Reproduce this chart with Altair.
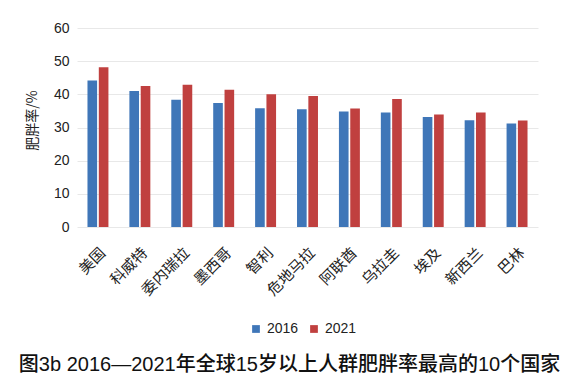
import altair as alt
import pandas as pd

countries = ["美国", "科威特", "委内瑞拉", "墨西哥", "智利", "危地马拉", "阿联酋", "乌拉圭", "埃及", "新西兰", "巴林"]
v2016 = [44.2, 41.0, 38.4, 37.4, 35.8, 35.5, 34.8, 34.5, 33.2, 32.2, 31.2]
v2021 = [48.2, 42.5, 42.9, 41.4, 40.0, 39.5, 35.7, 38.6, 33.9, 34.5, 32.1]
years = ["2016", "2021"]
colors = ["#3f76b8", "#c0403f"]

rows = []
for c, a, b in zip(countries, v2016, v2021):
    rows.append({"country": c, "year": "2016", "value": a})
    rows.append({"country": c, "year": "2021", "value": b})
df = pd.DataFrame(rows)

FONT = "Liberation Sans, Noto Sans CJK SC"

chart = alt.Chart(df).mark_bar().encode(
    x=alt.X("country:N", sort=countries,
            scale=alt.Scale(paddingInner=0.5, paddingOuter=0.25),
            axis=alt.Axis(title=None, labelAngle=-45, labelFontSize=15, labelColor="#222",
                          labelFont="Noto Sans CJK SC", ticks=False, domain=False,
                          labelPadding=18)),
    xOffset=alt.XOffset("year:N", scale=alt.Scale(paddingInner=0.15)),
    y=alt.Y("value:Q", scale=alt.Scale(domain=[0, 60]),
            axis=alt.Axis(title="肥胖率/%", values=[0, 10, 20, 30, 40, 50, 60],
                          labelFontSize=14, labelColor="#222", labelFont=FONT,
                          titleFontSize=14, titleFont="Noto Sans CJK SC", titleColor="#222",
                          titleFontWeight="normal", titlePadding=14, labelPadding=8,
                          titleY=92,
                          ticks=False, domain=False, gridColor="#e8e8e8")),
    color=alt.Color("year:N", scale=alt.Scale(domain=years, range=colors),
                    legend=alt.Legend(title=None, orient="none", direction="horizontal",
                                      legendX=172, legendY=294, symbolType="square",
                                      symbolSize=60, labelFontSize=14, labelFont=FONT,
                                      labelColor="#222", columnPadding=8)),
).properties(
    width=461, height=199,
    title=alt.TitleParams("图3b  2016—2021年全球15岁以上人群肥胖率最高的10个国家",
                          orient="bottom", anchor="middle", fontSize=20,
                          font=FONT, fontWeight=500, color="#111",
                          offset=19, dx=-18),
    autosize=alt.AutoSizeParams(type="none"),
    padding={"left": 69, "top": 20, "right": 41, "bottom": 152},
).configure_view(stroke=None)

chart.save("out.html", embed_options={"renderer": "svg", "actions": False})
